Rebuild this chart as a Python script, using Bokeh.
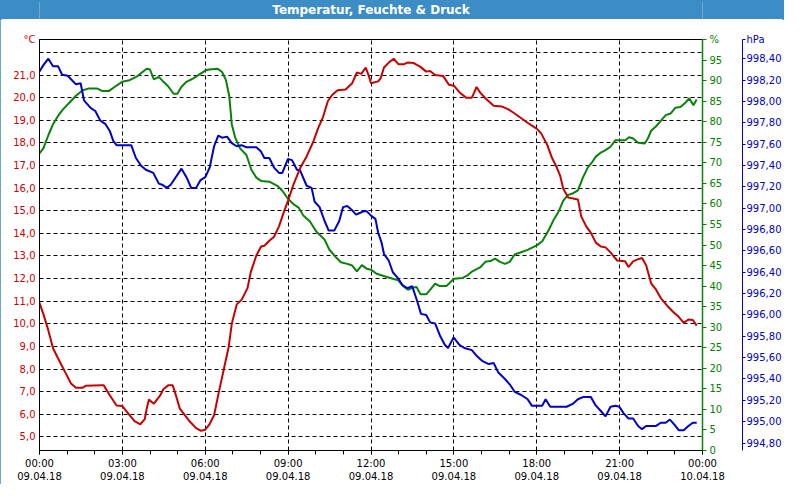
from bokeh.plotting import figure
from bokeh.models import Range1d, LinearAxis, FixedTicker, Label
from bokeh.layouts import column
from bokeh.embed import file_html
from bokeh.resources import INLINE
from bokeh.core.properties import value

# ---------------- data ----------------
TITLE = "Temperatur, Feuchte & Druck"
SERIES_NAMES = ["Temperatur [°C]", "rel. Feuchte [%]", "Druck [hPa]"]

X_TICKS = [0, 3, 6, 9, 12, 15, 18, 21, 24]
X_LABELS = ["00:00\n09.04.18", "03:00\n09.04.18", "06:00\n09.04.18", "09:00\n09.04.18",
            "12:00\n09.04.18", "15:00\n09.04.18", "18:00\n09.04.18", "21:00\n09.04.18",
            "00:00\n10.04.18"]
X_MINOR = list(range(0, 25))

TEMP_TICKS = [5, 6, 7, 8, 9, 10, 11, 12, 13, 14, 15, 16, 17, 18, 19, 20, 21, 22, 22.57]
TEMP_LABELS = ["5,0", "6,0", "7,0", "8,0", "9,0", "10,0", "11,0", "12,0", "13,0", "14,0",
               "15,0", "16,0", "17,0", "18,0", "19,0", "20,0", "21,0", "", "°C"]
HUM_TICKS = [0, 5, 10, 15, 20, 25, 30, 35, 40, 45, 50, 55, 60, 65, 70, 75, 80, 85, 90, 95, 100]
HUM_LABELS = ["0", "5", "10", "15", "20", "25", "30", "35", "40", "45", "50", "55", "60",
              "65", "70", "75", "80", "85", "90", "95", "%"]
PRES_TICKS = [994.8, 995.0, 995.2, 995.4, 995.6, 995.8, 996.0, 996.2, 996.4, 996.6, 996.8,
              997.0, 997.2, 997.4, 997.6, 997.8, 998.0, 998.2, 998.4, 998.58]
PRES_LABELS = ["994,80", "995,00", "995,20", "995,40", "995,60", "995,80", "996,00", "996,20",
               "996,40", "996,60", "996,80", "997,00", "997,20", "997,40", "997,60", "997,80",
               "998,00", "998,20", "998,40", "hPa"]

TEMP_HOURS = [0.00, 0.14, 0.32, 0.49, 0.67, 0.91, 1.14, 1.32, 1.55, 1.67, 2.26, 2.32, 2.55, 2.79,
              2.99, 3.26, 3.44, 3.65, 3.81, 3.88, 3.96, 4.14, 4.35, 4.49, 4.67, 4.82, 4.94, 5.08,
              5.26, 5.44, 5.67, 5.85, 6.00, 6.14, 6.32, 6.49, 6.67, 6.85, 6.96, 7.14, 7.32, 7.53,
              7.65, 7.85, 8.02, 8.14, 8.32, 8.49, 8.67, 8.85, 9.00, 9.20, 9.44, 9.67, 9.91, 10.08,
              10.26, 10.44, 10.61, 10.79, 11.08, 11.32, 11.49, 11.65, 11.81, 11.93, 12.00, 12.26,
              12.35, 12.47, 12.67, 12.82, 12.99, 13.20, 13.32, 13.55, 13.79, 14.00, 14.14, 14.32,
              14.61, 14.82, 15.00, 15.20, 15.44, 15.65, 15.73, 15.82, 15.96, 16.16, 16.44, 16.73,
              16.96, 17.20, 17.44, 17.67, 17.91, 18.00, 18.16, 18.38, 18.55, 18.73, 18.85, 18.96,
              19.14, 19.32, 19.49, 19.61, 19.79, 19.96, 20.14, 20.32, 20.49, 20.67, 20.91, 21.20,
              21.32, 21.49, 21.65, 21.81, 21.96, 22.14, 22.32, 22.49, 22.73, 22.96, 23.14, 23.32,
              23.49, 23.65, 23.79]
TEMP_VALUES = [10.93, 10.43, 9.71, 8.92, 8.48, 7.91, 7.36, 7.17, 7.17, 7.26, 7.29, 7.29, 6.83, 6.39,
               6.37, 5.96, 5.70, 5.56, 5.79, 6.25, 6.65, 6.47, 6.80, 7.12, 7.29, 7.29, 6.83, 6.25,
               5.96, 5.68, 5.39, 5.27, 5.32, 5.53, 5.96, 6.97, 7.98, 8.99, 10.00, 10.86, 11.07, 11.58,
               12.30, 13.02, 13.42, 13.45, 13.67, 13.85, 14.31, 14.96, 15.46, 16.18, 16.90, 17.40,
               18.05, 18.63, 19.13, 19.85, 20.14, 20.33, 20.36, 20.64, 21.11, 21.05, 21.33, 20.93,
               20.64, 20.72, 20.86, 21.33, 21.58, 21.72, 21.48, 21.48, 21.55, 21.53, 21.36, 21.15,
               21.18, 21.00, 20.96, 20.57, 20.53, 20.24, 20.00, 20.00, 20.21, 20.47, 20.21, 19.95,
               19.64, 19.61, 19.49, 19.30, 19.09, 18.89, 18.70, 18.63, 18.42, 17.91, 17.34, 16.90,
               16.54, 15.97, 15.58, 15.54, 15.50, 14.75, 14.31, 14.02, 13.59, 13.42, 13.38, 13.16,
               12.80, 12.77, 12.51, 12.76, 12.85, 12.91, 12.59, 11.79, 11.51, 11.14, 10.79, 10.50,
               10.31, 10.04, 10.19, 10.17, 9.92]

HUM_HOURS = [0.00, 0.14, 0.32, 0.49, 0.67, 0.85, 1.08, 1.32, 1.55, 1.79, 2.08, 2.26, 2.52, 2.73,
             2.99, 3.26, 3.55, 3.73, 3.88, 4.00, 4.14, 4.32, 4.49, 4.67, 4.85, 4.99, 5.14, 5.32,
             5.55, 5.79, 6.02, 6.14, 6.44, 6.61, 6.75, 6.87, 6.96, 7.08, 7.26, 7.49, 7.67, 7.85,
             8.02, 8.32, 8.61, 8.79, 9.00, 9.20, 9.38, 9.55, 9.79, 10.02, 10.32, 10.49, 10.73,
             10.91, 11.14, 11.32, 11.49, 11.67, 11.85, 12.00, 12.20, 12.49, 12.79, 12.99, 13.14,
             13.34, 13.49, 13.65, 13.79, 14.00, 14.14, 14.32, 14.49, 14.73, 15.00, 15.32, 15.49,
             15.67, 15.96, 16.14, 16.32, 16.49, 16.67, 16.85, 17.02, 17.20, 17.38, 17.67, 17.91,
             18.00, 18.20, 18.44, 18.61, 18.79, 18.96, 19.14, 19.32, 19.49, 19.67, 19.85, 20.02,
             20.14, 20.32, 20.49, 20.67, 20.85, 21.08, 21.20, 21.34, 21.49, 21.67, 21.91, 22.02,
             22.14, 22.32, 22.49, 22.67, 22.85, 23.02, 23.20, 23.38, 23.52, 23.67, 23.79]
HUM_VALUES = [72.3, 73.5, 76.7, 79.4, 81.4, 83.0, 84.6, 86.3, 87.6, 88.1, 88.1, 87.5, 87.5, 88.5,
              89.7, 90.1, 91.1, 92.1, 92.9, 92.7, 90.3, 90.9, 89.7, 88.5, 86.8, 86.8, 88.5, 89.7,
              90.5, 91.5, 92.5, 92.7, 92.9, 92.1, 90.1, 86.2, 79.4, 76.2, 73.5, 71.9, 68.3, 66.4,
              65.6, 65.4, 64.4, 63.2, 61.2, 59.9, 59.1, 57.2, 55.7, 53.3, 51.3, 48.9, 47.0,
              45.8, 45.4, 45.0, 43.6, 45.1, 44.2, 44.0, 43.0, 42.4, 41.8, 41.4, 40.1,
              39.1, 39.6, 39.8, 38.0, 38.0, 39.1, 40.6, 40.0, 40.0, 41.8, 42.0, 42.6,
              43.6, 44.6, 45.9, 46.1, 46.7, 45.9, 45.4, 45.9, 47.7, 48.1, 48.8, 49.6,
              49.9, 50.9, 53.7, 56.1, 58.1, 60.8, 62.2, 62.6, 63.3, 66.4, 68.9, 70.3,
              71.5, 72.5, 73.1, 73.9, 75.5, 75.5, 75.5, 76.2, 75.9, 74.9, 74.7, 75.9,
              77.8, 78.9, 80.2, 81.6, 82.0, 83.4, 83.6, 84.6, 85.7, 84.0, 85.4]

PRES_HOURS = [0.00, 0.14, 0.32, 0.49, 0.67, 0.82, 1.02, 1.32, 1.49, 1.61, 1.85, 2.02, 2.20, 2.38,
              2.55, 2.67, 2.79, 3.32, 3.49, 3.67, 3.85, 4.12, 4.32, 4.44, 4.61, 4.75, 5.14, 5.32,
              5.49, 5.67, 5.82, 6.00, 6.16, 6.32, 6.47, 6.61, 6.79, 6.96, 7.14, 7.32, 7.49, 7.85,
              8.02, 8.14, 8.32, 8.49, 8.67, 8.79, 8.99, 9.14, 9.32, 9.44, 9.67, 9.85, 9.96, 10.14,
              10.32, 10.47, 10.67, 10.85, 10.99, 11.14, 11.32, 11.46, 11.55, 11.73, 11.85, 12.00,
              12.16, 12.26, 12.38, 12.47, 12.64, 12.79, 12.96, 13.14, 13.32, 13.49, 13.67, 13.81,
              14.00, 14.14, 14.32, 14.49, 14.67, 14.79, 14.99, 15.20, 15.38, 15.65, 15.85, 16.02,
              16.26, 16.44, 16.61, 16.85, 17.02, 17.20, 17.44, 17.67, 17.82, 18.00, 18.20, 18.32,
              18.49, 18.73, 19.08, 19.32, 19.49, 19.67, 19.96, 20.14, 20.32, 20.49, 20.67, 20.85,
              20.99, 21.14, 21.32, 21.49, 21.67, 21.81, 21.96, 22.32, 22.49, 22.67, 22.82, 22.99,
              23.14, 23.32, 23.49, 23.65, 23.79]
PRES_VALUES = [998.28, 998.34, 998.40, 998.33, 998.33, 998.25, 998.24, 998.16, 998.17, 998.01,
               997.94, 997.91, 997.82, 997.79, 997.72, 997.63, 997.59, 997.59, 997.47, 997.40,
               997.36, 997.33, 997.23, 997.22, 997.19, 997.22, 997.37, 997.29, 997.19, 997.19,
               997.26, 997.29, 997.38, 997.58, 997.68, 997.66, 997.67, 997.61, 997.58, 997.59,
               997.57, 997.57, 997.53, 997.47, 997.47, 997.38, 997.33, 997.33, 997.46, 997.45,
               997.36, 997.35, 997.21, 997.19, 997.06, 997.01, 996.88, 996.79, 996.79, 996.88,
               997.01, 997.02, 996.98, 996.94, 996.95, 996.97, 996.97, 996.93, 996.90, 996.77,
               996.68, 996.57, 996.51, 996.40, 996.35, 996.28, 996.25, 996.27, 996.13, 996.01,
               996.00, 995.93, 995.92, 995.81, 995.72, 995.69, 995.79, 995.72, 995.69, 995.67,
               995.61, 995.57, 995.54, 995.55, 995.46, 995.40, 995.35, 995.28, 995.25, 995.21,
               995.15, 995.15, 995.15, 995.21, 995.14, 995.14, 995.14, 995.17, 995.21, 995.23,
               995.23, 995.15, 995.10, 995.05, 995.14, 995.15, 995.14, 995.08, 995.03, 995.03,
               994.96, 994.93, 994.96, 994.96, 994.99, 994.99, 995.02, 994.97, 994.92, 994.92,
               994.96, 994.99, 994.99]

# ---------------- style ----------------
RED_TXT = "#d00000"
RED = "#c80000"
GREEN = "#0a820a"
GREEN_TXT = "#008000"
BLUE = "#0000c8"
BAR = "#3c8dc5"
FONT = "DejaVu Sans"
W = 784
H_BAR = 19
H_MAIN = 465

# title bar
t = figure(width=W, height=H_BAR, x_range=Range1d(0, 1), y_range=Range1d(0, 1),
           output_backend="svg", toolbar_location=None, x_axis_location=None,
           y_axis_location=None, min_border=0, background_fill_color=BAR,
           border_fill_color=BAR, outline_line_color=None)
t.grid.visible = False
t.text(x=[0.5], y=[0.5], text=[TITLE], text_align="center", text_baseline="middle",
       text_color="white", text_font_style="bold", text_font_size="12px",
       text_font=value(FONT))

# main chart
p = figure(width=W, height=H_MAIN, x_range=Range1d(0, 24), y_range=Range1d(4.4, 22.57),
           output_backend="svg", toolbar_location=None, min_border_left=39,
           min_border_right=0, min_border_top=20, min_border_bottom=0,
           background_fill_color="white", border_fill_color="white",
           outline_line_color="black", outline_line_width=1)

p.extra_y_ranges = {"hum": Range1d(0, 100), "pres": Range1d(994.73, 998.58)}

xa = p.xaxis[0]
xa.ticker = FixedTicker(ticks=X_TICKS, minor_ticks=X_MINOR)
xa.major_label_overrides = dict(zip(X_TICKS, X_LABELS))
xa.major_tick_in = 0
xa.major_tick_out = 4
xa.minor_tick_in = 0
xa.minor_tick_out = 4
xa.axis_line_color = "black"
xa.major_label_text_font = FONT
xa.major_label_text_font_size = "10px"
xa.major_label_text_color = "black"
xa.major_label_standoff = 3

ya = p.yaxis[0]
ya.ticker = FixedTicker(ticks=TEMP_TICKS)
ya.major_label_overrides = dict(zip(TEMP_TICKS, TEMP_LABELS))
ya.major_tick_in = 0
ya.major_tick_out = 0
ya.minor_tick_out = 0
ya.minor_tick_in = 0
ya.axis_line_color = "black"
ya.major_label_text_color = RED_TXT
ya.major_label_text_font = FONT
ya.major_label_text_font_size = "10px"
ya.major_label_standoff = 4

for g in (p.xgrid[0], p.ygrid[0]):
    g.grid_line_color = "black"
    g.grid_line_dash = "4 3"
    g.grid_line_width = 1
    g.grid_line_alpha = 1.0

ha = LinearAxis(y_range_name="hum", ticker=FixedTicker(ticks=HUM_TICKS),
                major_label_overrides=dict(zip(HUM_TICKS, HUM_LABELS)),
                axis_line_color=GREEN, axis_line_width=1.5,
                major_tick_line_color=GREEN, major_tick_in=0, major_tick_out=4,
                minor_tick_in=0, minor_tick_out=0,
                major_label_text_color=GREEN_TXT, major_label_text_font=FONT,
                major_label_text_font_size="10px", major_label_standoff=3,
                axis_label=" ", axis_label_standoff=2, axis_label_text_font_size="11px")
p.add_layout(ha, "right")

pa = LinearAxis(y_range_name="pres", ticker=FixedTicker(ticks=PRES_TICKS),
                major_label_overrides=dict(zip(PRES_TICKS, PRES_LABELS)),
                axis_line_color=BLUE, axis_line_width=1,
                major_tick_line_color=BLUE, major_tick_in=0, major_tick_out=3,
                minor_tick_in=0, minor_tick_out=0,
                major_label_text_color=BLUE, major_label_text_font=FONT,
                major_label_text_font_size="10px", major_label_standoff=1)
p.add_layout(pa, "right")

p.line(HUM_HOURS, HUM_VALUES, y_range_name="hum", line_color=GREEN, line_width=2)
p.line(PRES_HOURS, PRES_VALUES, y_range_name="pres", line_color=BLUE, line_width=2)
p.line(TEMP_HOURS, TEMP_VALUES, line_color=RED, line_width=2)

for name, xpos, col in zip(SERIES_NAMES, [3.79, 12.68, 21.58], [RED_TXT, GREEN_TXT, BLUE]):
    p.add_layout(Label(x=xpos, y=22.57, y_offset=9, text=name, text_align="center",
                       text_baseline="middle", text_color=col, text_font=FONT,
                       text_font_size="10px"))

layout = column(t, p, spacing=0,
                styles={"outline": "2px solid " + BAR, "outline-offset": "-2px"})
open("out.html", "w").write(file_html(layout, INLINE))
